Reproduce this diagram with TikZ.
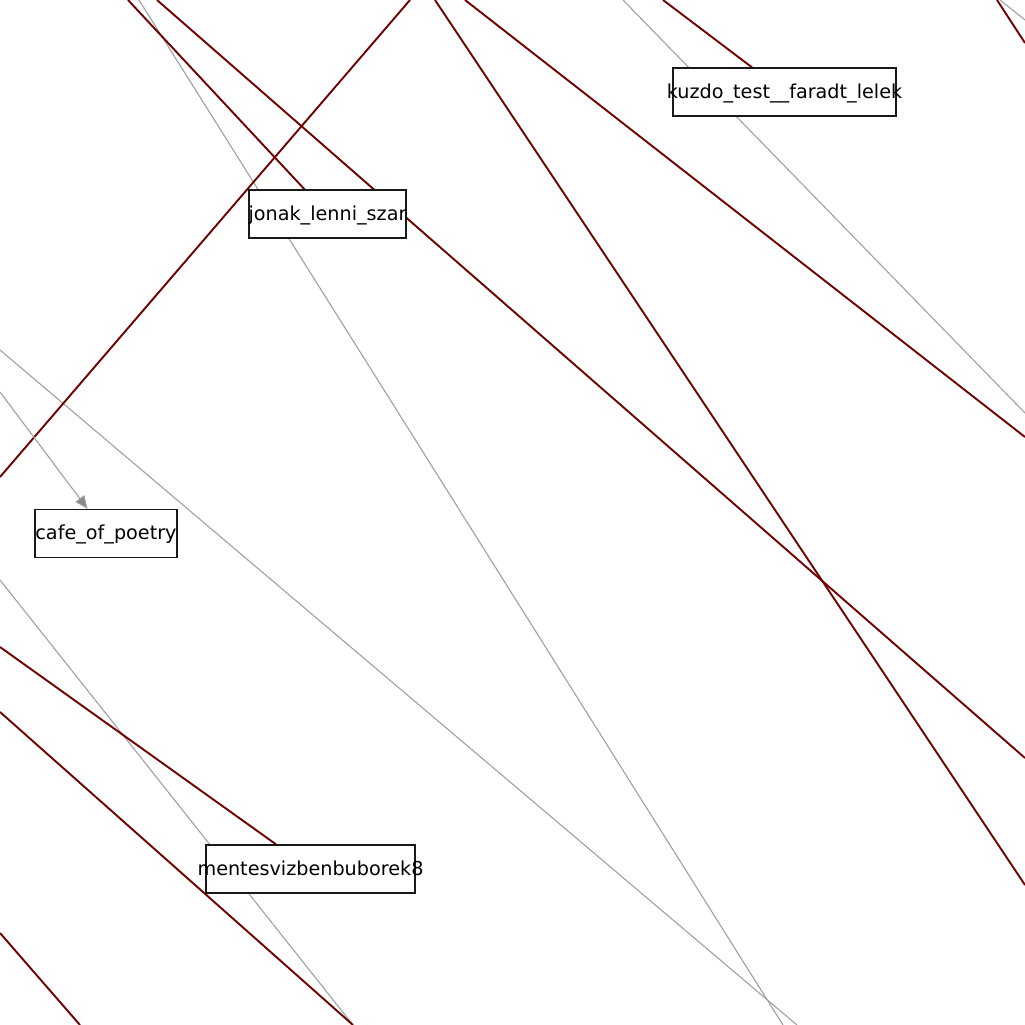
\documentclass[tikz,border=0pt]{standalone}
\usepackage{fontspec}
\setmainfont{DejaVu Sans}
\usetikzlibrary{arrows.meta,backgrounds}
\definecolor{edgered}{RGB}{110,0,0}
\definecolor{edgegray}{RGB}{160,160,160}
\begin{document}
\begin{tikzpicture}[x=1pt,y=-1pt,
  box/.style={draw=black!90, line width=1.2pt, fill=white, rectangle, inner sep=0pt, minimum height=48pt},
  lbl/.style={font=\fontsize{19.2}{23}\selectfont, inner sep=0pt, anchor=base},
  redge/.style={draw=edgered, line width=1.9pt},
  gedge/.style={draw=edgegray, line width=1.1pt},
  garrow/.style={gedge, -{Triangle[length=13pt,width=11pt,fill=edgegray!85!black]}}]
\useasboundingbox (0,0) rectangle (1025,1025);
\clip (0,0) rectangle (1025,1025);
% free ends of connectors
\coordinate (a1) at (128,0);
\coordinate (a2) at (157,0);
\coordinate (b2) at (1025,758);
\coordinate (a3) at (410,0);
\coordinate (b3) at (0,477);
\coordinate (a4) at (435,0);
\coordinate (b4) at (1025,885);
\coordinate (a5) at (465,0);
\coordinate (b5) at (1025,437);
\coordinate (a6) at (663,0);
\coordinate (a7) at (997,0);
\coordinate (b7) at (1025,43);
\coordinate (a8) at (0,647);
\coordinate (a9) at (0,712);
\coordinate (b9) at (353,1025);
\coordinate (a10) at (0,933);
\coordinate (b10) at (80,1025);
\coordinate (g1a) at (139,0);
\coordinate (g1b) at (783,1025);
\coordinate (g2a) at (0,350);
\coordinate (g2b) at (797,1025);
\coordinate (g3a) at (0,392);
\coordinate (g4a) at (0,580);
\coordinate (g4b) at (353,1025);
\coordinate (g5a) at (623,0);
\coordinate (g5b) at (1025,413);
\coordinate (g6a) at (1000,0);
\coordinate (g6b) at (1025,20);
% nodes (boxes)
\path (784.5,92) node[box, minimum width=223pt] (kuzdo) {};
\path (327.5,214) node[box, minimum width=157pt] (jonak) {};
\path (106,533.5) node[box, minimum width=142pt] (cafe) {};
\path (310.5,869) node[box, minimum width=209pt] (mentes) {};
% labels
\node[lbl] (kuzdoT) at ([yshift=-6pt]kuzdo.center) {kuzdo\_test\_\_faradt\_lelek};
\node[lbl] (jonakT) at ([yshift=-6pt]jonak.center) {jonak\_lenni\_szar};
\node[lbl] (cafeT) at ([yshift=-6pt]cafe.center) {cafe\_of\_poetry};
\node[lbl] (mentesT) at ([yshift=-6pt]mentes.center) {mentesvizbenbuborek8};
% connectors behind nodes
\begin{scope}[on background layer]
\draw[gedge] (g1a) -- (g1b);
\draw[gedge] (g2a) -- (g2b);
\draw[gedge] (g4a) -- (g4b);
\draw[gedge] (g5a) -- (g5b);
\draw[gedge] (g6a) -- (g6b);
\draw[redge] (a1) -- (jonak);
\draw[redge] (a2) -- (b2);
\draw[redge] (a3) -- (b3);
\draw[redge] (a4) -- (b4);
\draw[redge] (a5) -- (b5);
\draw[redge] (a6) -- (kuzdo);
\draw[redge] (a7) -- (b7);
\draw[redge] (a8) -- (mentes);
\draw[redge] (a9) -- (b9);
\draw[redge] (a10) -- (b10);
\end{scope}
\draw[garrow] (g3a) -- (cafe);
\end{tikzpicture}
\end{document}
